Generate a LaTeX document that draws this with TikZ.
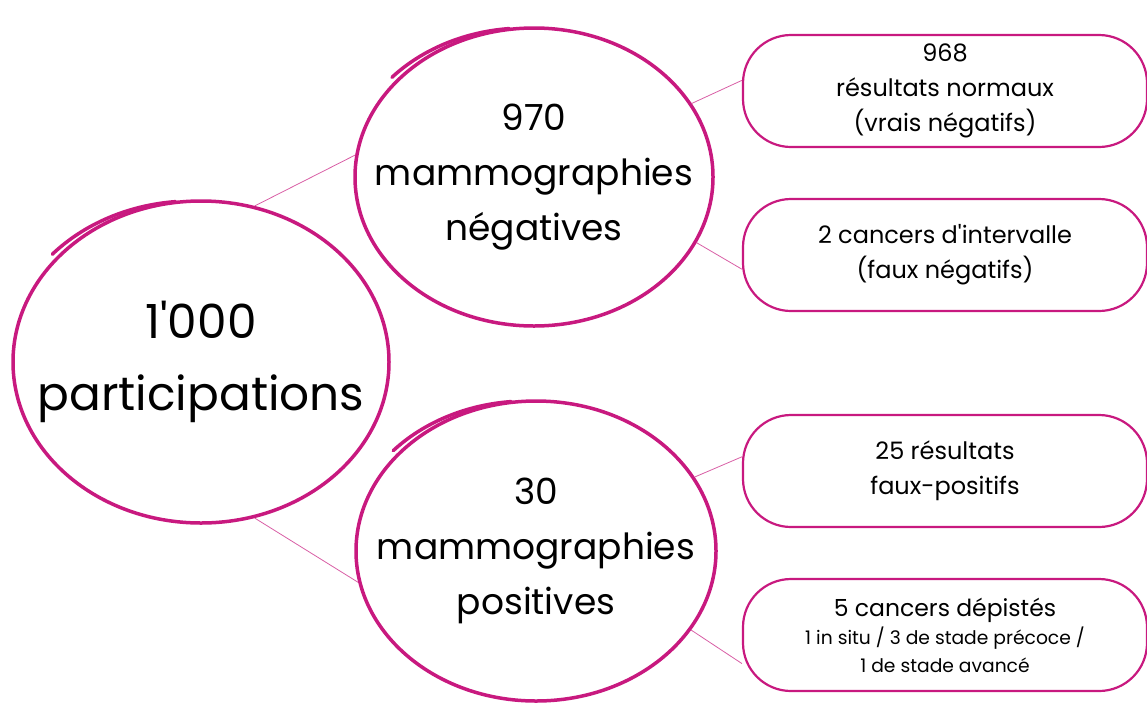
\documentclass[tikz,border=0pt]{standalone}
\usepackage{fontspec}
\setmainfont{Poppins}
\usepackage{tikz}
\usetikzlibrary{shapes.geometric,positioning}

\definecolor{pinkline}{HTML}{C8197F}

\begin{document}
\begin{tikzpicture}[
    x=1pt, y=-1pt,
    circ/.style={ellipse,draw=pinkline,line width=3.5pt,inner sep=-90pt,
                 align=center},
    outcome/.style={rectangle,rounded corners=48pt,draw=pinkline,line width=2.2pt,
                    minimum width=404pt,minimum height=112pt,inner sep=0pt,align=center,
                    font=\fontsize{24}{35}\selectfont},
    link/.style={pinkline!70,line width=0.8pt},
    tail/.style={pinkline,line width=3.5pt,line cap=round},
  ]
  \useasboundingbox (0,0) rectangle (1147,702);

  % --- circles ---
  \node[circ,minimum width=376pt,minimum height=322pt,
        font=\fontsize{47}{72}\selectfont] (total) at (201,362)
        {1\textquotesingle 000\\participations};
  \node[circ,minimum width=358pt,minimum height=298pt,
        font=\fontsize{36}{55}\selectfont] (neg) at (534,177) {970\\mammographies\\négatives};
  \node[circ,minimum width=360pt,minimum height=300pt,
        font=\fontsize{36}{55}\selectfont] (pos) at (536,551) {30\\mammographies\\positives};

  % --- pen tails ---
  \draw[tail] ([xshift=-9pt,shift={(138:188pt and 161pt)}]total.center)
    arc[start angle=138,end angle=95,x radius=188pt,y radius=161pt];
  \draw[tail] ([xshift=-9pt,shift={(138:179pt and 149pt)}]neg.center)
    arc[start angle=138,end angle=95,x radius=179pt,y radius=149pt];
  \draw[tail] ([xshift=-9pt,shift={(138:180pt and 150pt)}]pos.center)
    arc[start angle=138,end angle=95,x radius=180pt,y radius=150pt];

  % --- outcomes ---
  \node[outcome] (tn) at (945,91)  {968\\résultats normaux\\(vrais négatifs)};
  \node[outcome] (fn) at (945,255) {2 cancers d\textquotesingle intervalle\\(faux négatifs)};
  \node[outcome] (fp) at (945,471) {25 résultats\\faux-positifs};
  \node[outcome,font=\fontsize{18.7}{28}\selectfont] (tp) at (945,635)
    {{\fontsize{23.5}{28}\selectfont 5 cancers dépistés}\\1 in situ / 3 de stade précoce /\\1 de stade avancé};

  % --- links ---
  \draw[link] (total.71)  -- (neg.173);
  \draw[link] (total.289) -- (pos.190);
  \draw[link] (neg.25)  -- (tn.177);
  \draw[link] (neg.338) -- (fn.184);
  \draw[link] (pos.25)  -- (fp.176);
  \draw[link] (pos.333) -- (tp.188);

\end{tikzpicture}
\end{document}
